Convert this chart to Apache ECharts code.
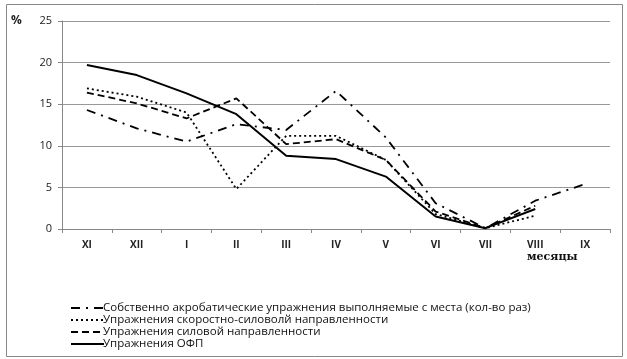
<!DOCTYPE html>
<html>
<head>
<meta charset="utf-8">
<script src="https://cdn.jsdelivr.net/npm/echarts@6/dist/echarts.min.js"></script>
<style>
html,body{margin:0;padding:0;background:#fff;}
#c{width:627px;height:359px;}
</style>
</head>
<body>
<div id="c"></div>
<script>
const categories = ['XI','XII','I','II','III','IV','V','VI','VII','VIII','IX'];
const yTicks = [0,5,10,15,20,25];
const seriesNames = [
  'Собственно акробатические упражнения выполняемые с места (кол-во раз)',
  'Упражнения скоростно-силоволй направленности',
  'Упражнения силовой направленности',
  'Упражнения ОФП'
];
const acro  = [14.3, 12.1, 10.5, 12.6, 11.9, 16.6, 11.0, 3.1, 0.1, 3.4, 5.4];
const speed = [16.9, 15.9, 14.0, 4.8, 11.2, 11.2, 8.3, 1.8, 0.1, 1.6, null];
const power = [16.4, 15.1, 13.3, 15.7, 10.2, 10.8, 8.3, 2.1, 0.1, 2.8, null];
const ofp   = [19.7, 18.5, 16.3, 13.8, 8.8, 8.4, 6.3, 1.5, 0.1, 2.4, null];

const font = 'Open Sans';
const chart = echarts.init(document.getElementById('c'), null, {renderer:'canvas'});
function mk(name, data, type, width){
  return {name, type:'line', data, symbol:'none', smooth:false, connectNulls:false,
    lineStyle:{color:'#000', width:width, type:type}, itemStyle:{color:'#000'},
    emphasis:{disabled:true}, animation:false};
}
chart.setOption({
  animation:false,
  grid:{left:62, right:17, top:21, bottom:130},
  xAxis:{type:'category', data:categories, boundaryGap:true,
    axisLine:{lineStyle:{color:'#888', width:1}},
    axisTick:{show:true, length:4, lineStyle:{color:'#888'}},
    axisLabel:{color:'#222', fontFamily:font, fontSize:10, fontWeight:'bold', margin:11}},
  yAxis:{type:'value', min:yTicks[0], max:yTicks[yTicks.length-1], interval:5,
    axisLine:{show:true, lineStyle:{color:'#888'}},
    axisTick:{show:true, length:4, lineStyle:{color:'#888'}},
    splitLine:{lineStyle:{color:'#999', width:1}},
    axisLabel:{color:'#222', fontFamily:font, fontSize:11, margin:10}},
  legend:{orient:'vertical', left:65, top:297, itemWidth:33, itemHeight:10, itemGap:0,
    data:seriesNames, selectedMode:false,
    itemStyle:{opacity:0},
    textStyle:{fontFamily:font, fontSize:11.5, color:'#111', padding:[0,0,0,-6]}},
  graphic:[
    {type:'rect', shape:{x:6.5, y:4.5, width:616, height:352}, style:{fill:'none', stroke:'#888', lineWidth:1}, z:-1},
    {type:'text', left:11, top:15, style:{text:'%', font:'bold 12px "'+font+'"', fill:'#222'}},
    {type:'text', left:527, top:252, style:{text:'месяцы', font:'bold 11px "DejaVu Serif"', fill:'#111'}}
  ],
  series:[
    mk(seriesNames[0], acro, [9,6,2,6], 1.8),
    mk(seriesNames[1], speed, [2,3], 1.8),
    mk(seriesNames[2], power, [7,4], 1.8),
    mk(seriesNames[3], ofp, 'solid', 2)
  ]
});
</script>
</body>
</html>
